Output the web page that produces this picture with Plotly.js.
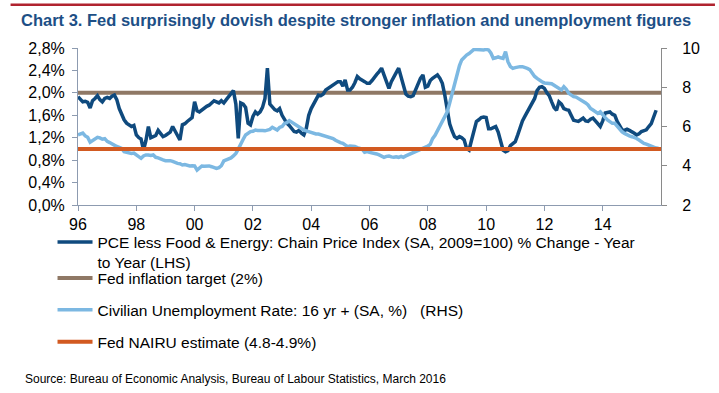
<!DOCTYPE html>
<html>
<head>
<meta charset="utf-8">
<script src="https://cdn.plot.ly/plotly-3.0.1.min.js"></script>
<style>html,body{margin:0;padding:0;background:#fff;}#chart{width:719px;height:393px;}</style>
</head>
<body>
<div id="chart"></div>
<script>
// ---- Data (monthly) ----
const startYear = 1996;
// PCE less food & energy, % y/y (LHS), Jan 1996 - Nov 2015
const pceCore = [
  1.93,1.88,1.84,1.85,1.83,1.73,1.86,1.90,1.95,1.88,1.84,1.90,
  1.92,1.90,1.94,1.96,1.88,1.72,1.62,1.52,1.46,1.42,1.40,1.42,
  1.25,1.20,1.18,0.98,1.15,1.40,1.20,1.22,1.24,1.33,1.26,1.22,
  1.24,1.28,1.30,1.40,1.32,1.22,1.16,1.43,1.45,1.49,1.52,1.56,
  1.84,1.68,1.66,1.70,1.72,1.76,1.78,1.82,1.86,1.84,1.82,1.86,
  1.82,1.88,1.93,1.98,2.04,1.80,1.19,1.82,1.80,1.74,1.46,1.43,
  1.58,1.66,1.62,1.66,1.74,1.90,2.44,1.80,1.74,1.70,1.68,1.72,
  1.60,1.52,1.46,1.42,1.37,1.31,1.30,1.33,1.28,1.25,1.37,1.60,
  1.72,1.80,1.86,1.96,1.95,1.98,2.05,2.08,2.10,2.14,2.17,2.20,
  2.20,2.12,2.23,2.05,2.05,2.10,2.18,2.29,2.25,2.23,2.20,2.17,
  2.17,2.22,2.28,2.33,2.38,2.44,2.32,2.20,2.08,2.20,2.30,2.36,
  2.44,2.28,2.12,1.98,1.94,1.93,1.95,2.05,2.16,2.26,2.32,2.10,
  2.12,2.22,2.26,2.29,2.32,2.26,2.17,1.96,1.65,1.45,1.32,1.22,
  1.19,1.22,1.20,1.16,1.01,0.98,1.15,1.30,1.49,1.52,1.56,1.57,
  1.56,1.36,1.36,1.38,1.40,1.30,1.15,0.98,0.95,0.97,1.06,1.10,
  1.13,1.25,1.38,1.50,1.58,1.66,1.72,1.82,1.90,2.04,2.10,2.11,
  2.08,2.00,1.95,1.84,1.74,1.69,1.84,1.80,1.72,1.70,1.69,1.60,
  1.51,1.50,1.49,1.52,1.55,1.50,1.49,1.53,1.55,1.50,1.46,1.40,
  1.50,1.64,1.65,1.66,1.62,1.60,1.49,1.42,1.34,1.33,1.35,1.33,
  1.31,1.28,1.25,1.27,1.31,1.32,1.34,1.40,1.45,1.57,1.69
];
// Civilian unemployment rate 16+, % (RHS), Jan 1996 - Dec 2015
const unemployment = [
  5.57,5.62,5.66,5.52,5.45,5.20,5.30,5.38,5.45,5.42,5.35,5.38,
  5.24,5.18,5.12,5.01,4.98,4.94,4.88,4.72,4.68,4.63,4.63,4.65,
  4.55,4.50,4.38,4.50,4.55,4.55,4.52,4.55,4.43,4.40,4.33,4.30,
  4.26,4.28,4.26,4.22,4.16,4.12,4.10,4.04,4.06,4.01,3.99,4.00,
  3.99,3.78,3.90,3.99,3.98,3.99,3.99,3.95,3.88,3.86,3.90,4.00,
  4.25,4.29,4.35,4.40,4.50,4.63,4.85,5.14,5.35,5.57,5.68,5.74,
  5.76,5.82,5.80,5.82,5.80,5.78,5.80,5.85,5.96,5.90,5.82,5.95,
  6.00,6.16,6.20,6.30,6.22,6.16,6.05,5.96,5.90,5.82,5.78,5.74,
  5.70,5.65,5.62,5.62,5.58,5.55,5.50,5.43,5.40,5.39,5.30,5.22,
  5.18,5.14,5.05,4.97,5.00,5.00,4.98,4.92,4.90,4.85,4.69,4.72,
  4.68,4.66,4.63,4.60,4.55,4.50,4.43,4.48,4.50,4.45,4.43,4.46,
  4.43,4.48,4.43,4.50,4.55,4.60,4.65,4.72,4.78,4.83,4.88,4.92,
  5.00,5.10,5.38,5.55,5.80,6.00,6.24,6.50,6.75,7.20,7.69,8.20,
  8.71,9.10,9.39,9.55,9.64,9.72,9.85,9.93,9.92,9.90,9.88,9.90,
  9.93,9.90,9.75,9.47,9.50,9.55,9.50,9.47,9.81,9.30,9.05,8.96,
  9.00,9.05,9.05,9.05,9.02,8.96,8.90,8.71,8.55,8.45,8.35,8.28,
  8.22,8.20,8.20,8.18,8.10,8.03,7.94,7.86,8.03,7.90,7.69,7.60,
  7.52,7.50,7.44,7.38,7.27,7.20,7.10,6.92,6.84,6.75,6.67,6.75,
  6.63,6.45,6.33,6.24,6.16,6.16,6.00,5.85,5.73,5.65,5.56,5.52,
  5.48,5.45,5.39,5.31,5.22,5.14,5.10,5.05,4.97,4.94,4.90,4.89
];
const fedTarget = 2.0;       // % (LHS)
const nairu = 4.85;          // % (RHS)
const xStart = '1996-01-01';
const xEnd = '2016-01-01';
const xTickVals = ['1996-01-01','1998-01-01','2000-01-01','2002-01-01','2004-01-01','2006-01-01','2008-01-01','2010-01-01','2012-01-01','2014-01-01'];
const xTickText = ['96','98','00','02','04','06','08','10','12','14'];
const yTickVals = [0,0.4,0.8,1.2,1.6,2.0,2.4,2.8];
const yTickText = ['0,0%','0,4%','0,8%','1,2%','1,6%','2,0%','2,4%','2,8%'];
const y2TickVals = [2,4,6,8,10];
const y2TickText = ['2','4','6','8','10'];
const seriesNames = [
  'PCE less Food & Energy: Chain Price Index (SA, 2009=100) % Change - Year<br>to Year (LHS)',
  'Fed inflation target (2%)',
  'Civilian Unemployment Rate: 16 yr + (SA, %)   (RHS)',
  'Fed NAIRU estimate (4.8-4.9%)'
];
const titleText = 'Chart 3. Fed surprisingly dovish despite stronger inflation and unemployment figures';
const sourceText = 'Source: Bureau of Economic Analysis, Bureau of Labour Statistics, March 2016';

function monthDates(n) {
  const out = [];
  for (let i = 0; i < n; i++) {
    const y = startYear + Math.floor(i / 12);
    const m = (i % 12) + 1;
    out.push(y + '-' + (m < 10 ? '0' + m : m) + '-01');
  }
  return out;
}

const C_DARK = '#0f4a7e', C_BROWN = '#8f7865', C_LIGHT = '#7cb8e2', C_ORANGE = '#d25a21';
const LW = 3.5;
const FONT = 'Liberation Sans, Arial, sans-serif';

const traces = [
  {x: [xStart, xEnd], y: [fedTarget, fedTarget], type: 'scatter', mode: 'lines', name: seriesNames[1],
   line: {color: C_BROWN, width: 4}, legend: 'legend2', hoverinfo: 'skip'},
  {x: monthDates(pceCore.length), y: pceCore, type: 'scatter', mode: 'lines', name: seriesNames[0],
   line: {color: C_DARK, width: LW}, legend: 'legend'},
  {x: monthDates(unemployment.length), y: unemployment, type: 'scatter', mode: 'lines', name: seriesNames[2],
   line: {color: C_LIGHT, width: LW}, yaxis: 'y2', legend: 'legend3'},
  {x: [xStart, xEnd], y: [nairu, nairu], type: 'scatter', mode: 'lines', name: seriesNames[3],
   line: {color: C_ORANGE, width: 4}, yaxis: 'y2', legend: 'legend4', hoverinfo: 'skip'}
];

// plot area: x 77.5..661, y 48..205.5
const PL = 77.5, PR = 661, PT = 48, PB = 205.5;
const pw = PR - PL, ph = PB - PT;
const px = v => (v - PL) / pw;
const py = v => (PB - v) / ph;

function legendAt(topPx) {
  return {x: px(52), xanchor: 'left', y: py(topPx), yanchor: 'top', bgcolor: 'rgba(0,0,0,0)',
    borderwidth: 0, itemwidth: 35, valign: 'top', font: {family: FONT, size: 15.5, color: '#000'},
    itemclick: false, itemdoubleclick: false};
}

const layout = {
  width: 719, height: 393,
  margin: {l: PL, r: 719 - PR, t: PT, b: 393 - PB, pad: 0},
  paper_bgcolor: '#fff', plot_bgcolor: '#fff',
  showlegend: true,
  title: {text: '<b>' + titleText + '</b>', x: 21 / 719, xanchor: 'left', xref: 'container',
    y: 1 - 20 / 393, yanchor: 'middle', yref: 'container',
    font: {family: FONT, size: 16.5, color: '#1d4f86'}},
  xaxis: {type: 'date', range: [xStart, xEnd], tickvals: xTickVals, ticktext: xTickText,
    showgrid: false, zeroline: false, showline: true, linecolor: '#8d9bb0', linewidth: 1,
    ticks: 'outside', ticklen: 5, tickcolor: '#8d9bb0', tickfont: {family: FONT, size: 16, color: '#000'},
    fixedrange: true},
  yaxis: {range: [0, 2.8], tickvals: yTickVals, ticktext: yTickText, showgrid: false, zeroline: false,
    showline: true, linecolor: '#8d9bb0', linewidth: 1, ticks: 'outside', ticklen: 5, tickcolor: '#8d9bb0',
    tickfont: {family: FONT, size: 16, color: '#000'}, ticklabelstandoff: 4, fixedrange: true},
  yaxis2: {range: [2, 10], tickvals: y2TickVals, ticktext: y2TickText, overlaying: 'y', side: 'right',
    showgrid: false, zeroline: false, showline: true, linecolor: '#8a8a8a', linewidth: 1,
    ticks: 'outside', ticklen: 5, tickcolor: '#8a8a8a', tickfont: {family: FONT, size: 16, color: '#000'},
    ticklabelstandoff: 12, fixedrange: true},
  legend: legendAt(226),
  legend2: legendAt(262),
  legend3: legendAt(294),
  legend4: legendAt(326),
  shapes: [
    {type: 'line', xref: 'paper', yref: 'paper', x0: px(10), x1: px(715), y0: py(4.5), y1: py(4.5),
     line: {color: '#b0232f', width: 2.5}}
  ],
  annotations: [
    {text: sourceText, xref: 'paper', yref: 'paper', x: px(22), y: py(380), xanchor: 'left', yanchor: 'middle',
     showarrow: false, font: {family: 'Liberation Sans Narrow, Arial Narrow, Liberation Sans, sans-serif', size: 12, color: '#000'}}
  ]
};

Plotly.newPlot('chart', traces, layout, {displayModeBar: false, staticPlot: true});
</script>
</body>
</html>
